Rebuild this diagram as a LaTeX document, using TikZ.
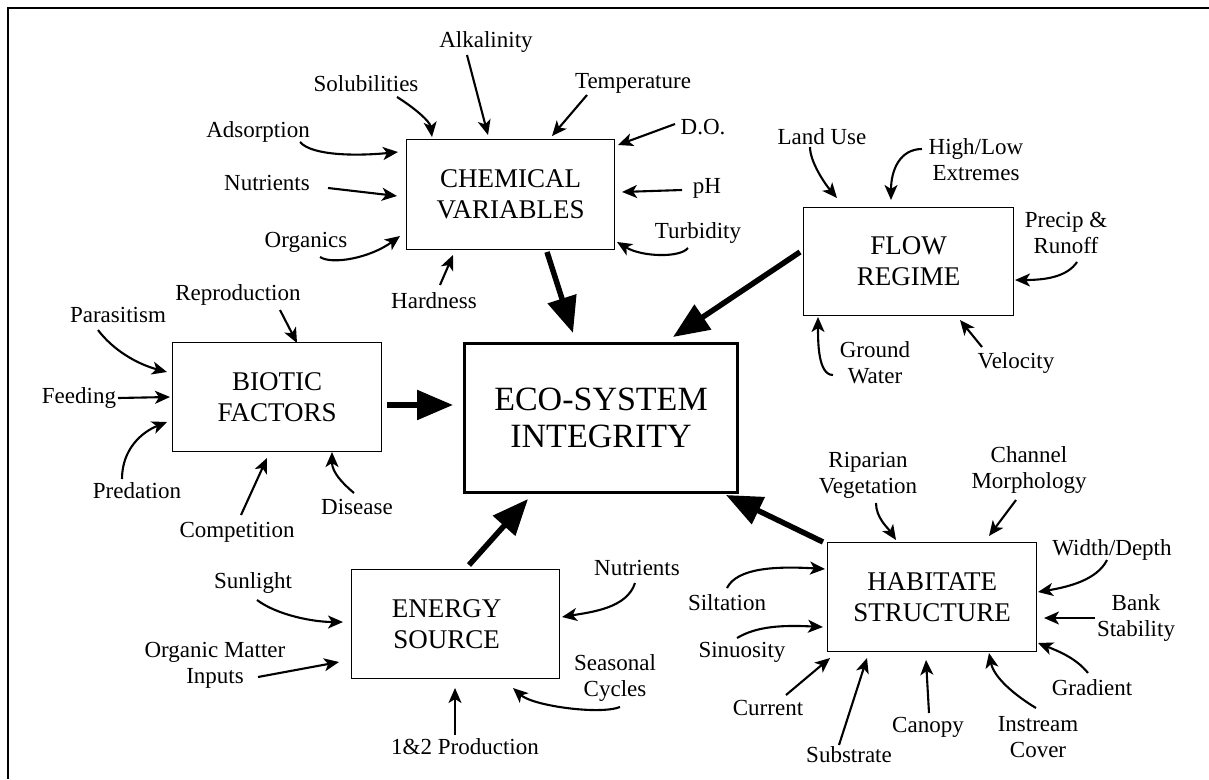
\documentclass[tikz,border=0pt]{standalone}
\usepackage{fontspec}
\setmainfont{Liberation Serif}
\usetikzlibrary{arrows.meta,calc}
\begin{document}
\begin{tikzpicture}[x=1pt,y=-1pt,
  box/.style={draw, line width=1.3pt, anchor=north west, inner sep=0pt, align=center,
    font=\fontsize{27}{31}\selectfont},
  mainbox/.style={draw, line width=3pt, anchor=north west, inner sep=0pt, align=center,
    font=\fontsize{34}{37}\selectfont},
  lbl/.style={inner sep=0pt, align=center, font=\fontsize{23}{26}\selectfont},
  arr/.style={line width=2.1pt, -{Stealth[length=15pt,width=13pt,inset=4pt]}},
  big/.style={line width=5.5pt, -{Triangle[length=36pt,width=29pt]}}]
\useasboundingbox (0,0) rectangle (1209,779);
\draw[line width=2pt] (1209,8) -- (8,8) -- (8,779);

% boxes
\node[box, minimum width=208pt, minimum height=110pt] (chem) at (406,139) {CHEMICAL\\VARIABLES};
\node[mainbox, minimum width=273pt, minimum height=149pt] (eco) at (463,342) {ECO-SYSTEM\\INTEGRITY};
\node[box, minimum width=210pt, minimum height=108pt] (flow) at (803,207) {FLOW\\REGIME};
\node[box, minimum width=209pt, minimum height=109pt] (bio) at (172,342) {BIOTIC\\FACTORS};
\node[box, minimum width=208pt, minimum height=109pt] (energy) at (351,569) {ENERGY\hspace*{18pt}\\SOURCE\hspace*{18pt}};
\node[box, minimum width=209pt, minimum height=109pt] (hab) at (827,542) {HABITATE\\STRUCTURE};

% chemical labels
\node[lbl] (alk) at (486,42) {Alkalinity};
\node[lbl] (sol) at (366,84) {Solubilities};
\node[lbl] (temp) at (633,83) {Temperature};
\node[lbl] (do) at (703,127) {D.O.};
\node[lbl] (ads) at (258,132) {Adsorption};
\node[lbl] (nut) at (267,183) {Nutrients};
\node[lbl] (ph) at (707,188) {pH};
\node[lbl] (org) at (306,242) {Organics};
\node[lbl] (turb) at (698,233) {Turbidity};
\node[lbl] (hard) at (434,301) {Hardness};

\draw[arr] ($(alk.center)+(-19,13)$) -- ($(chem.north west)+(82,-4)$);
\draw[arr] ($(sol.center)+(31,13)$) .. controls +(16,10) and +(-2,-16) .. ($(chem.north west)+(26,-2)$);
\draw[arr] ($(temp.center)+(-46,12)$) -- ($(chem.north west)+(146,-3)$);
\draw[arr] ($(do.center)+(-28,-3)$) -- ($(chem.north west)+(212,6)$);
\draw[arr] ($(ads.center)+(42,10)$) .. controls +(12,14) and +(-40,4) .. ($(chem.north west)+(-8,13)$);
\draw[arr] ($(nut.center)+(61,5)$) -- ($(chem.north west)+(-9,57)$);
\draw[arr] ($(ph.center)+(-25,2)$) -- ($(chem.north west)+(216,53)$);
\draw[arr] ($(org.center)+(14,15)$) .. controls +(12,8) and +(-30,22) .. ($(chem.north west)+(-6,97)$);
\draw[arr] ($(turb.center)+(-10,15)$) .. controls +(-8,10) and +(25,15) .. ($(chem.north west)+(211,103)$);
\draw[arr] ($(hard.center)+(6,-16)$) -- ($(chem.north west)+(47,116)$);

% flow labels
\node[lbl] (land) at (822,137) {Land Use};
\node[lbl] (high) at (976,160) {High/Low\\Extremes};
\node[lbl] (precip) at (1066,233) {Precip \&\\Runoff};
\node[lbl] (ground) at (875,363) {Ground\\Water};
\node[lbl] (vel) at (1016,363) {Velocity};

\draw[arr] ($(land.center)+(-12,10)$) .. controls +(0,15) and +(-12,-14) .. ($(flow.north west)+(34,-9)$);
\draw[arr] ($(high.center)+(-54,-11)$) .. controls +(-22,0) and +(0,-30) .. ($(flow.north west)+(88,-7)$);
\draw[arr] ($(precip.center)+(11,29)$) .. controls +(-10,15) and +(30,0) .. ($(flow.north west)+(212,73)$);
\draw[arr] ($(ground.center)+(-42,12)$) .. controls +(-15,0) and +(0,25) .. ($(flow.north west)+(15,110)$);
\draw[arr] ($(vel.center)+(-34,-16)$) -- ($(flow.north west)+(157,113)$);

% biotic labels
\node[lbl] (repro) at (238,295) {Reproduction};
\node[lbl] (para) at (118,315) {Parasitism};
\node[lbl] (feed) at (79,398) {Feeding};
\node[lbl] (pred) at (137,491) {Predation};
\node[lbl] (comp) at (237,532) {Competition};
\node[lbl] (dis) at (357,507) {Disease};

\draw[arr] ($(repro.center)+(42,15)$) -- ($(bio.north west)+(125,1)$);
\draw[arr] ($(para.center)+(-20,15)$) .. controls +(15,20) and +(-30,-8) .. ($(bio.north west)+(-5,30)$);
\draw[arr] ($(feed.center)+(39,0)$) -- ($(bio.north west)+(-2,55)$);
\draw[arr] ($(pred.center)+(-15,-12)$) .. controls +(0,-30) and +(-25,10) .. ($(bio.north west)+(-5,80)$);
\draw[arr] ($(comp.center)+(4,-17)$) -- ($(bio.north west)+(95,116)$);
\draw[arr] ($(dis.center)+(-3,-14)$) .. controls +(-12,-10) and +(0,20) .. ($(bio.north west)+(160,110)$);

% energy labels
\node[lbl] (sun) at (253,583) {Sunlight};
\node[lbl] (omi) at (215,665) {Organic Matter\\Inputs};
\node[lbl] (prod) at (465,747) {1\&2 Production};
\node[lbl] (nut2) at (637,568) {Nutrients};
\node[lbl] (seas) at (615,678) {Seasonal\\Cycles};

\draw[arr] ($(sun.center)+(4,17)$) .. controls +(20,15) and +(-30,0) .. ($(energy.north west)+(-8,53)$);
\draw[arr] ($(omi.center)+(43,12)$) -- ($(energy.north west)+(-12,93)$);
\draw[arr] ($(prod.center)+(-10,-12)$) -- ($(energy.north west)+(104,119)$);
\draw[arr] ($(nut2.center)+(-2,15)$) .. controls +(-8,25) and +(30,-5) .. ($(energy.north west)+(211,48)$);
\draw[arr] ($(seas.center)+(5,29)$) .. controls +(-20,8) and +(20,18) .. ($(energy.north west)+(162,119)$);

% habitat labels
\node[lbl] (rip) at (868,475) {Riparian\\Vegetation};
\node[lbl] (chan) at (1029,470) {Channel\\Morphology};
\node[lbl] (wd) at (1112,550) {Width/Depth};
\node[lbl] (bank) at (1136,618) {Bank\\Stability};
\node[lbl] (grad) at (1092,688) {Gradient};
\node[lbl] (inst) at (1038,737) {Instream\\Cover};
\node[lbl] (can) at (928,727) {Canopy};
\node[lbl] (sub) at (849,755) {Substrate};
\node[lbl] (cur) at (768,708) {Current};
\node[lbl] (sin) at (742,652) {Sinuosity};
\node[lbl] (silt) at (727,603) {Siltation};

\draw[arr] ($(rip.center)+(8,28)$) .. controls +(0,15) and +(-8,-12) .. ($(hab.north west)+(69,-2)$);
\draw[arr] ($(chan.center)+(-13,30)$) -- ($(hab.north west)+(162,-6)$);
\draw[arr] ($(wd.center)+(-5,10)$) .. controls +(-10,20) and +(30,-5) .. ($(hab.north west)+(211,50)$);
\draw[arr] ($(bank.center)+(-41,0)$) -- ($(hab.north west)+(217,76)$);
\draw[arr] ($(grad.center)+(-4,-15)$) .. controls +(-12,-15) and +(20,8) .. ($(hab.north west)+(211,101)$);
\draw[arr] ($(inst.center)+(-2,-29)$) .. controls +(-20,-12) and +(5,25) .. ($(hab.north west)+(162,111)$);
\draw[arr] ($(can.center)+(1,-14)$) -- ($(hab.north west)+(99,118)$);
\draw[arr] ($(sub.center)+(-10,-10)$) -- ($(hab.north west)+(40,116)$);
\draw[arr] ($(cur.center)+(18,-13)$) -- ($(hab.north west)+(3,116)$);
\draw[arr] ($(sin.center)+(-5,-14)$) .. controls +(20,-12) and +(-40,-2) .. ($(hab.north west)+(-4,85)$);
\draw[arr] ($(silt.center)+(0,-15)$) .. controls +(10,-20) and +(-50,-3) .. ($(hab.north west)+(-2,27)$);

% main arrows
\draw[big] ($(chem.north west)+(141,113)$) -- ($(eco.north west)+(110,-9)$);
\draw[big] ($(flow.north west)+(-3,45)$) -- ($(eco.north west)+(210,-5)$);
\draw[big] ($(bio.north west)+(215,63)$) -- ($(eco.north west)+(-10,63)$);
\draw[big] ($(energy.north west)+(118,-4)$) -- ($(eco.north west)+(65,157)$);
\draw[big] ($(hab.north west)+(-4,0)$) -- ($(eco.north west)+(263,153)$);
\end{tikzpicture}
\end{document}
